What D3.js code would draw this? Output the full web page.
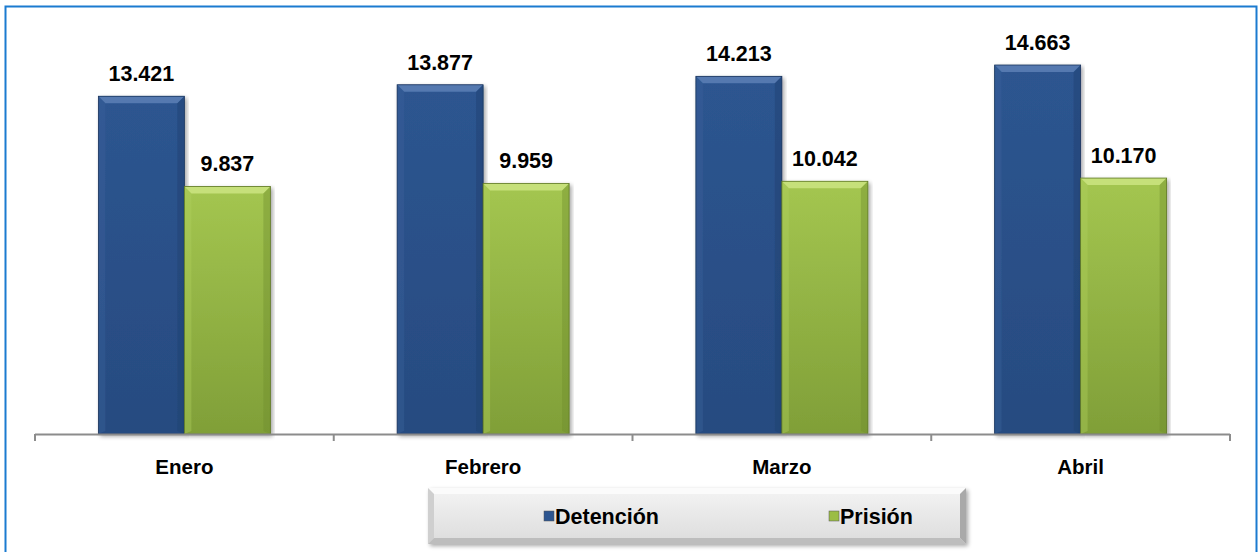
<!DOCTYPE html>
<html>
<head>
<meta charset="utf-8">
<script src="https://cdn.jsdelivr.net/npm/d3@7"></script>
<style>
body { margin: 0; background: #fff; }
svg { display: block; font-family: Arial, "Liberation Sans", sans-serif; }
</style>
</head>
<body>
<div id="chart"></div>
<script>
var months = ["Enero", "Febrero", "Marzo", "Abril"];
var seriesNames = ["Detención", "Prisión"];
var detencion = [13421, 13877, 14213, 14663];
var prision = [9837, 9959, 10042, 10170];
var labelsDet = ["13.421", "13.877", "14.213", "14.663"];
var labelsPri = ["9.837", "9.959", "10.042", "10.170"];

var width = 1259, height = 552;
var axis_y = 434;
var bev = 7; // bevel size

var svg = d3.select("#chart").append("svg")
	.attr("width", width)
	.attr("height", height);

var defs = svg.append("defs");

// gradients for the bars
function grad(id, c1, c2) {
	var g = defs.append("linearGradient").attr("id", id)
		.attr("x1", 0).attr("y1", 0).attr("x2", 0).attr("y2", 1);
	g.append("stop").attr("offset", "0%").attr("stop-color", c1);
	g.append("stop").attr("offset", "100%").attr("stop-color", c2);
}
grad("blueBody", "#2d5590", "#274b80");
grad("greenBody", "#a4c650", "#809f38");
grad("legendBg", "#f4f4f4", "#dcdcdc");

var filt = defs.append("filter").attr("id", "shadow")
	.attr("x", "-5%").attr("y", "-10%").attr("width", "110%").attr("height", "130%");
filt.append("feGaussianBlur").attr("in", "SourceAlpha").attr("stdDeviation", 2);
filt.append("feOffset").attr("dx", 2).attr("dy", 2).attr("result", "blur");
filt.append("feComponentTransfer").append("feFuncA").attr("type", "linear").attr("slope", 0.35);
var merge = filt.append("feMerge");
merge.append("feMergeNode");
merge.append("feMergeNode").attr("in", "SourceGraphic");

// outer frame
svg.append("path")
	.attr("d", "M5.5,552 L5.5,6.5 L1256.5,6.5 L1256.5,552")
	.attr("fill", "none")
	.attr("stroke", "#1b7bd0")
	.attr("stroke-width", 2);

var xScale = d3.scaleBand()
	.domain(months)
	.range([35, 1230]);

var xInner = d3.scaleBand()
	.domain(seriesNames)
	.range([0, xScale.bandwidth()])
	.paddingInner(0)
	.paddingOuter(0.737);

var yScale = d3.scaleLinear()
	.domain([0, 14663])
	.range([axis_y, 65]);

var colors = {
	"Detención": { body: "url(#blueBody)", top: "#5479b0", left: "#3a629c", right: "#1f3e6b", bottom: "#1c3a66" },
	"Prisión": { body: "url(#greenBody)", top: "#c6e07a", left: "#b0cf5c", right: "#6f8c2c", bottom: "#6a862a" }
};

var data = [];
months.forEach(function (m, i) {
	data.push({ month: m, series: "Detención", value: detencion[i], label: labelsDet[i] });
	data.push({ month: m, series: "Prisión", value: prision[i], label: labelsPri[i] });
});

var bars = svg.append("g").selectAll("g.bar")
	.data(data)
	.enter().append("g")
	.attr("class", "bar")
	.attr("filter", "url(#shadow)");

bars.each(function (d) {
	var g = d3.select(this);
	var x0 = xScale(d.month) + xInner(d.series);
	var x1 = x0 + xInner.bandwidth();
	var y0 = yScale(d.value);
	var y1 = axis_y;
	var c = colors[d.series];
	g.append("rect")
		.attr("x", x0).attr("y", y0)
		.attr("width", x1 - x0).attr("height", y1 - y0)
		.attr("fill", c.body);
	// bevel edges
	g.append("polygon")
		.attr("points", [[x0, y0], [x1, y0], [x1 - bev, y0 + bev], [x0 + bev, y0 + bev]].join(" "))
		.attr("fill", c.top);
	g.append("polygon")
		.attr("points", [[x0, y0], [x0 + bev, y0 + bev], [x0 + bev, y1 - 3], [x0, y1]].join(" "))
		.attr("fill", c.left).attr("opacity", 0.4);
	g.append("polygon")
		.attr("points", [[x1, y0], [x1 - bev, y0 + bev], [x1 - bev, y1 - 3], [x1, y1]].join(" "))
		.attr("fill", c.right).attr("opacity", 0.4);
	g.append("rect")
		.attr("x", x0).attr("y", y0)
		.attr("width", x1 - x0).attr("height", y1 - y0)
		.attr("fill", "none")
		.attr("stroke", d3.color(c.bottom).darker(0.3))
		.attr("stroke-width", 0.8);
});

// value labels
svg.append("g").selectAll("text")
	.data(data)
	.enter().append("text")
	.attr("x", function (d) { return xScale(d.month) + xInner(d.series) + xInner.bandwidth() / 2; })
	.attr("y", function (d) { return yScale(d.value) - 15; })
	.attr("text-anchor", "middle")
	.attr("font-size", "21.5px")
	.attr("font-weight", "bold")
	.attr("fill", "#000")
	.text(function (d) { return d.label; });

// x axis
var xAxis = d3.axisBottom(xScale).tickSize(0).tickPadding(0).tickFormat("");
var axisG = svg.append("g")
	.attr("transform", "translate(0," + axis_y + ")")
	.call(xAxis);
axisG.select(".domain").remove();
axisG.append("line")
	.attr("x1", 35).attr("x2", 1230)
	.attr("y1", 0.5).attr("y2", 0.5)
	.attr("stroke", "#8c8c8c").attr("stroke-width", 2);
var tickPos = months.map(function (m) { return xScale(m); }).concat([xScale.range()[1]]);
axisG.selectAll("line.tk")
	.data(tickPos)
	.enter().append("line")
	.attr("class", "tk")
	.attr("x1", function (d) { return d; }).attr("x2", function (d) { return d; })
	.attr("y1", 0).attr("y2", 7)
	.attr("stroke", "#8c8c8c").attr("stroke-width", 2);

svg.append("g").selectAll("text.cat")
	.data(months)
	.enter().append("text")
	.attr("class", "cat")
	.attr("x", function (d) { return xScale(d) + xScale.bandwidth() / 2; })
	.attr("y", 474)
	.attr("text-anchor", "middle")
	.attr("font-size", "20.5px")
	.attr("font-weight", "bold")
	.text(function (d) { return d; });

// legend
var lg = svg.append("g").attr("filter", "url(#shadow)");
var lx0 = 428, ly0 = 488, lw = 538, lh = 56, lb = 6;
lg.append("rect")
	.attr("x", lx0).attr("y", ly0).attr("width", lw).attr("height", lh)
	.attr("fill", "url(#legendBg)");
lg.append("polygon")
	.attr("points", [[lx0, ly0], [lx0 + lw, ly0], [lx0 + lw - lb, ly0 + lb], [lx0 + lb, ly0 + lb]].join(" "))
	.attr("fill", "#fbfbfb");
lg.append("polygon")
	.attr("points", [[lx0, ly0], [lx0 + lb, ly0 + lb], [lx0 + lb, ly0 + lh - lb], [lx0, ly0 + lh]].join(" "))
	.attr("fill", "#cfcfcf");
lg.append("polygon")
	.attr("points", [[lx0 + lw, ly0], [lx0 + lw - lb, ly0 + lb], [lx0 + lw - lb, ly0 + lh - lb], [lx0 + lw, ly0 + lh]].join(" "))
	.attr("fill", "#a9a9a9");
lg.append("polygon")
	.attr("points", [[lx0, ly0 + lh], [lx0 + lb, ly0 + lh - lb], [lx0 + lw - lb, ly0 + lh - lb], [lx0 + lw, ly0 + lh]].join(" "))
	.attr("fill", "#bdbdbd");

var legendX = [544, 829];
var swatch = ["#2d5590", "#9bbd45"];
var items = svg.append("g").selectAll("g.li")
	.data(seriesNames)
	.enter().append("g")
	.attr("class", "li")
	.attr("transform", function (d, i) { return "translate(" + legendX[i] + ",516)"; });
items.append("rect")
	.attr("x", 0).attr("y", -5).attr("width", 10).attr("height", 10)
	.attr("fill", function (d, i) { return swatch[i]; })
	.attr("stroke", "#555").attr("stroke-width", 0.5);
items.append("text")
	.attr("x", 11).attr("y", 8)
	.attr("font-size", "21.5px")
	.attr("font-weight", "bold")
	.text(function (d) { return d; });
</script>
</body>
</html>
